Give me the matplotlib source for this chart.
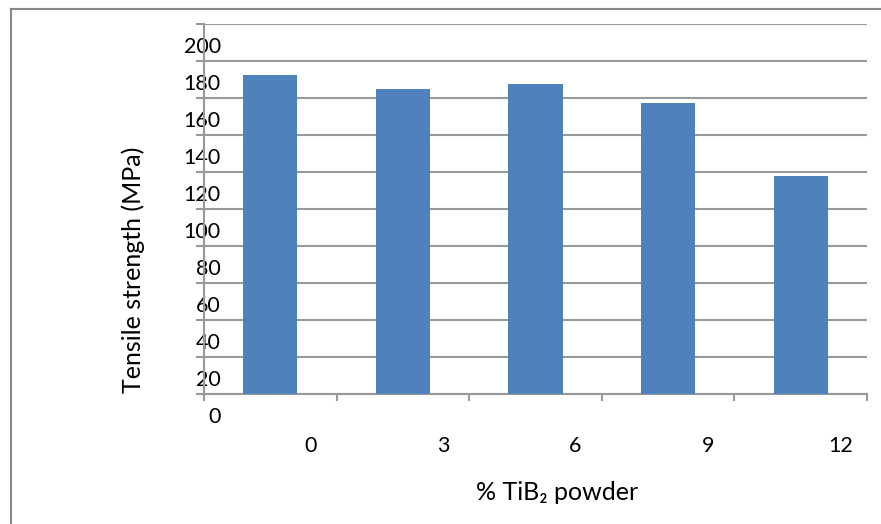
import matplotlib
matplotlib.use("Agg")
import matplotlib.pyplot as plt
import matplotlib.transforms as mtransforms
from matplotlib.lines import Line2D
import numpy as np

# Tensile strength vs. TiB2 content
tib2_percent = ["0", "3", "6", "9", "12"]
tensile_mpa = [172.4, 164.9, 167.6, 157.3, 117.8]
y_ticks = list(range(0, 201, 20))

plt.rcParams["font.family"] = ["Lato", "DejaVu Sans"]

fig = plt.figure(figsize=(8.81, 5.24), dpi=100)
W, H = 881, 524
ax = fig.add_axes([204 / W, 1 - 394 / H, (867 - 204) / W, (394 - 24) / H])

grid_c = "#999999"
bar_c = "#4F81BD"

x = np.arange(len(tib2_percent))
ax.bar(x, tensile_mpa, width=0.41, color=bar_c, zorder=3)

ax.set_xlim(-0.5, len(tib2_percent) - 0.5)
ax.set_ylim(0, 200)

# horizontal gridlines
ax.set_yticks(y_ticks)
ax.yaxis.grid(True, color=grid_c, linewidth=1.5, zorder=0)
ax.set_axisbelow(True)

for side in ["top", "right"]:
    ax.spines[side].set_visible(False)
for side in ["left", "bottom"]:
    ax.spines[side].set_color(grid_c)
    ax.spines[side].set_linewidth(1.5)

ax.tick_params(axis="y", length=6, width=1.5, color=grid_c, pad=2, labelsize=15.5)

# category boundary ticks on x axis
ax.set_xticks(np.arange(-0.5, len(tib2_percent), 1.0), minor=True)
ax.set_xticks(x)
ax.set_xticklabels(tib2_percent)
ax.tick_params(axis="x", which="minor", length=5, width=1.5, color=grid_c, direction="out")
ax.tick_params(axis="x", which="major", length=0, pad=4, labelsize=15.5)

# shift tick labels
y_off = mtransforms.ScaledTranslation(0.28, -0.21, fig.dpi_scale_trans)
for lab in ax.get_yticklabels():
    lab.set_transform(lab.get_transform() + y_off)
x_off = mtransforms.ScaledTranslation(0.40, -0.36, fig.dpi_scale_trans)
for lab in ax.get_xticklabels():
    lab.set_transform(lab.get_transform() + x_off)

fig.text(133 / W, 1 - 270 / H, "Tensile strength (MPa)", rotation=90,
         ha="center", va="center", fontsize=18)
fig.text(557 / W, 1 - 493 / H, "% TiB₂ powder", ha="center", va="center",
         fontsize=18)

# chart area frame (left and top edges)
fig.add_artist(Line2D([10.5 / W, 10.5 / W], [0, 1 - 8.5 / H], color="#888888",
                      linewidth=1.5, transform=fig.transFigure))
fig.add_artist(Line2D([10.5 / W, 1], [1 - 8.5 / H, 1 - 8.5 / H], color="#888888",
                      linewidth=1.5, transform=fig.transFigure))

fig.savefig("out.png", dpi=100)
